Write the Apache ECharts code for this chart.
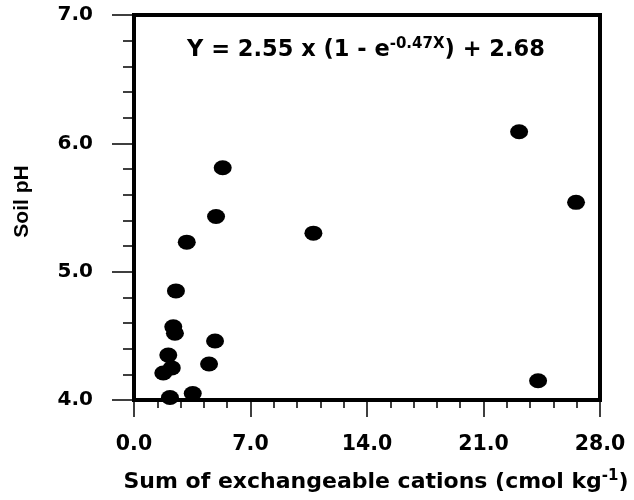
<!DOCTYPE html>
<html>
<head>
<meta charset="utf-8">
<script src="https://cdn.jsdelivr.net/npm/echarts@6/dist/echarts.min.js"></script>
<style>html,body{margin:0;padding:0;background:#fff}#c{width:634px;height:500px}</style>
</head>
<body>
<div id="c"></div>
<script>
const cations = [5.33, 4.93, 3.17, 10.78, 23.14, 26.56, 24.28, 2.52, 2.36, 2.46, 4.87, 2.06, 4.51, 1.76, 2.27, 2.16, 3.53];
const soilPH  = [5.81, 5.43, 5.23, 5.30, 6.09, 5.54, 4.15, 4.85, 4.57, 4.52, 4.46, 4.35, 4.28, 4.21, 4.25, 4.02, 4.05];
const xTicks = [0, 7, 14, 21, 28];
const yTicks = [4, 5, 6, 7];
const equationMain = 'Y = 2.55 x (1 - e';
const equationExp = '-0.47X';
const equationTail = ') + 2.68';
const xTitle = 'Sum of exchangeable cations (cmol kg';
const xTitleSup = '-1';
const yTitle = 'Soil pH';

const FONT = '"DejaVu Sans", sans-serif';
const FONT_V = '"Liberation Sans", Arial, sans-serif';
const chart = echarts.init(document.getElementById('c'), null, {renderer: 'canvas'});
chart.setOption({
  animation: false,
  backgroundColor: '#ffffff',
  grid: {left: 134, right: 34, top: 15, bottom: 100, show: true, borderColor: '#000', borderWidth: 4, backgroundColor: 'transparent'},
  xAxis: {
    type: 'value', min: xTicks[0], max: xTicks[xTicks.length - 1], interval: 7,
    axisLine: {show: true, lineStyle: {color: '#000', width: 4}},
    axisTick: {show: true, inside: false, length: 17, lineStyle: {color: '#000', width: 1.5}},
    minorTick: {show: true, splitNumber: 5, length: 8, lineStyle: {color: '#000', width: 1.5}},
    splitLine: {show: false},
    axisLabel: {margin: 34, color: '#000', fontFamily: FONT, fontWeight: 'bold', fontSize: 20.5, formatter: v => v.toFixed(1)},
    name: '{a|' + xTitle + '}{s|' + xTitleSup + '}{a|)}',
    nameLocation: 'middle', nameGap: 69,
    nameTextStyle: {
      padding: [0, 0, 0, 18],
      rich: {
        a: {fontFamily: FONT, fontWeight: 'bold', fontSize: 22, color: '#000', verticalAlign: 'bottom'},
        s: {fontFamily: FONT, fontWeight: 'bold', fontSize: 15, color: '#000', padding: [0, 0, 9, 0], verticalAlign: 'bottom'}
      }
    }
  },
  yAxis: {
    type: 'value', min: yTicks[0], max: yTicks[yTicks.length - 1], interval: 1,
    axisLine: {show: true, lineStyle: {color: '#000', width: 4}},
    axisTick: {show: true, inside: false, length: 22, lineStyle: {color: '#000', width: 1.5}},
    minorTick: {show: true, splitNumber: 5, length: 11, lineStyle: {color: '#000', width: 1.5}},
    splitLine: {show: false},
    axisLabel: {margin: 41, color: '#000', fontFamily: FONT, fontWeight: 'bold', fontSize: 20, formatter: v => v.toFixed(1)},
    name: yTitle, nameLocation: 'middle', nameGap: 101, nameRotate: 90,
    nameTextStyle: {fontFamily: FONT_V, fontWeight: 'bold', fontSize: 21, color: '#000', padding: [0, 0, 0, 12]}
  },
  graphic: [{
    type: 'text', left: 187, top: 37, z: 10,
    style: {
      text: '{a|' + equationMain + '}{s|' + equationExp + '}{a|' + equationTail + '}',
      rich: {
        a: {fontFamily: FONT, fontWeight: 'bold', fontSize: 22.5, fill: '#000', verticalAlign: 'bottom'},
        s: {fontFamily: FONT, fontWeight: 'bold', fontSize: 15, fill: '#000', padding: [0, 0, 10, 0], verticalAlign: 'bottom'}
      }
    }
  }],
  series: [{
    type: 'scatter',
    data: cations.map((x, i) => [x, soilPH[i]]),
    symbol: 'circle', symbolSize: [18, 15],
    itemStyle: {color: '#000', opacity: 1},
    clip: true, z: 3
  }]
});
</script>
</body>
</html>
